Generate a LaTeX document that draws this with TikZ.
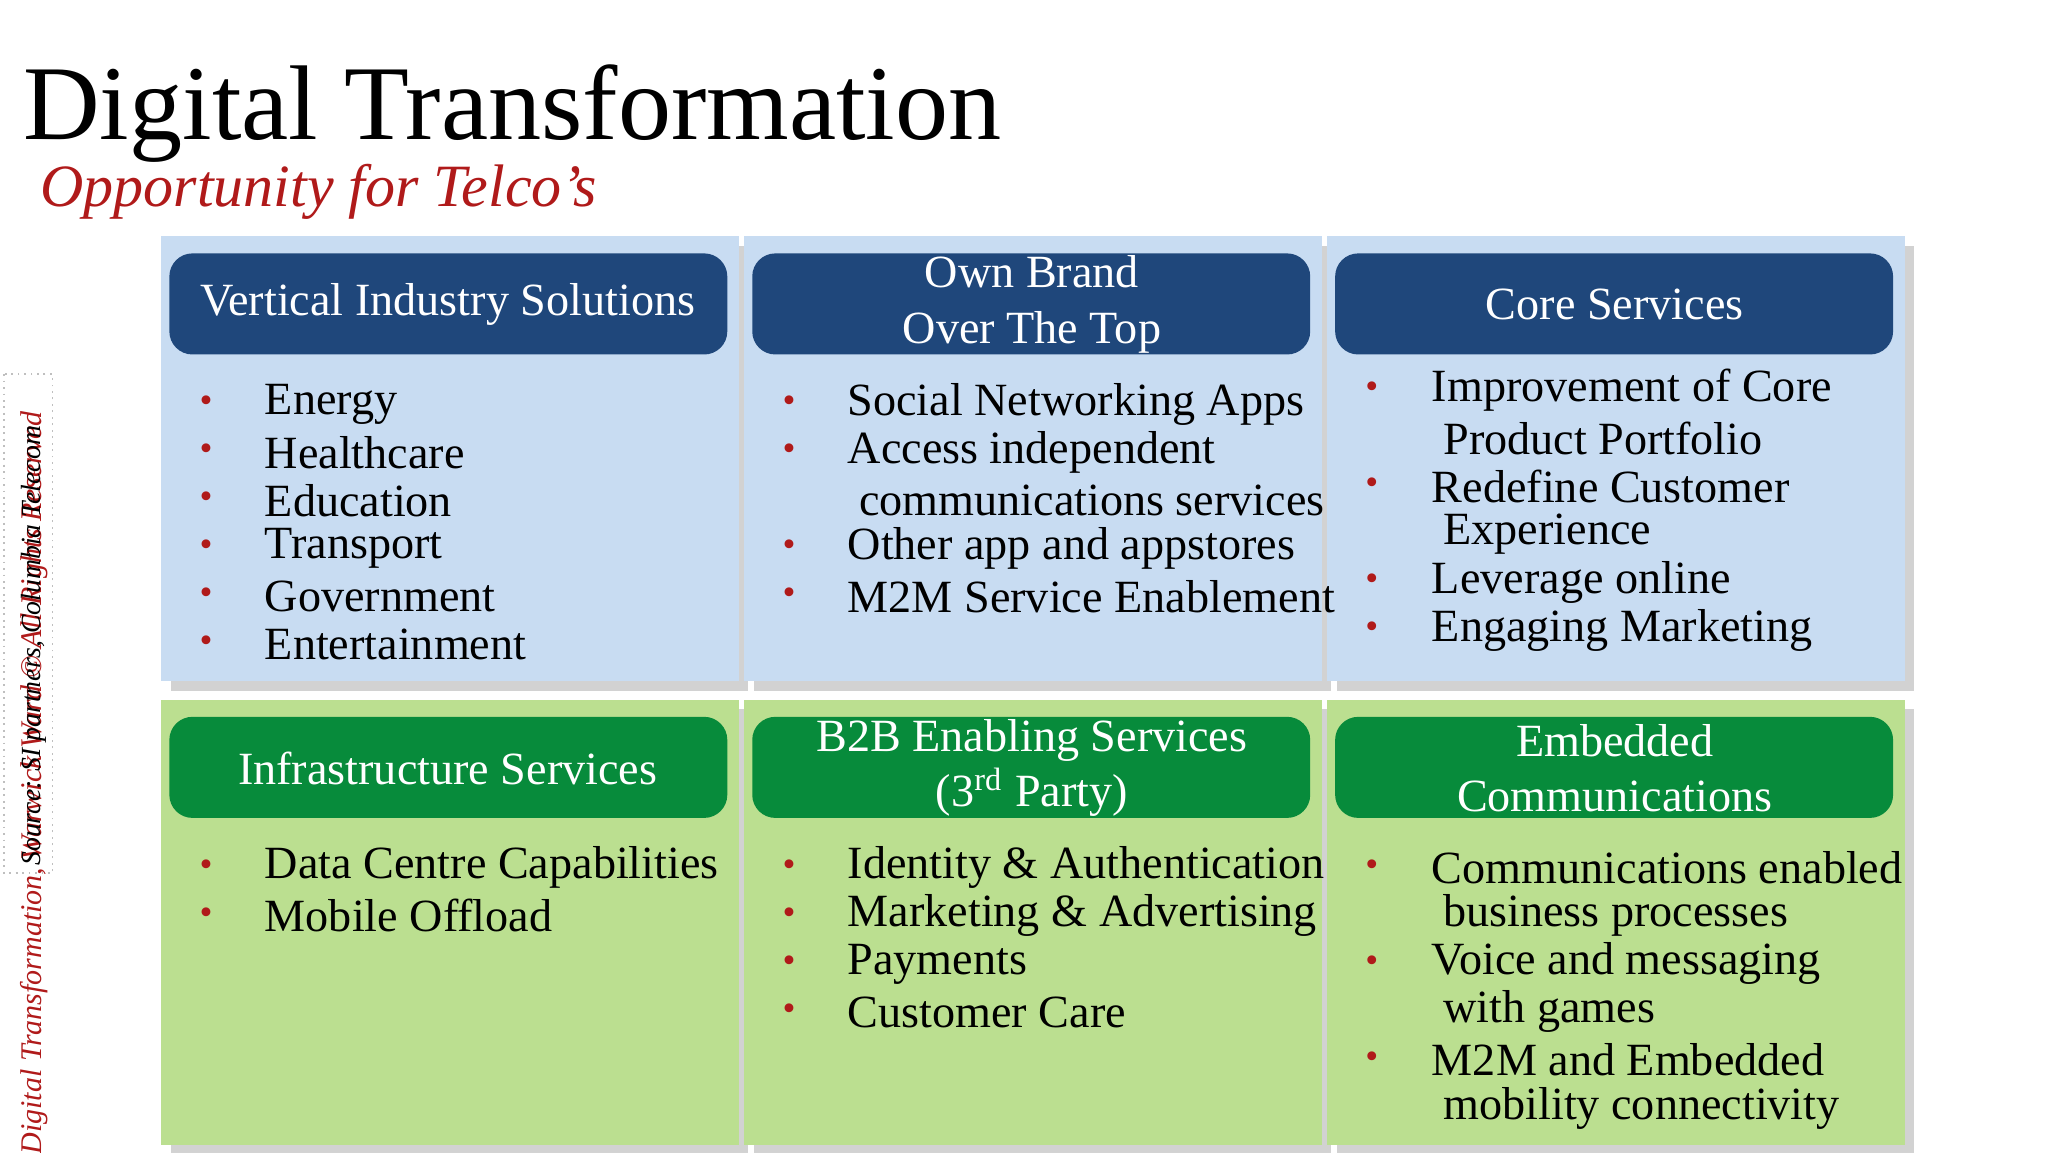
\documentclass[tikz,border=0pt]{standalone}
\usepackage{fontspec}
\setmainfont{Liberation Serif}
\usetikzlibrary{shadows}
\definecolor{hblue}{HTML}{1F477B}
\definecolor{pblue}{HTML}{C8DCF2}
\definecolor{hgreen}{HTML}{078B3B}
\definecolor{pgreen}{HTML}{BBDF90}
\definecolor{tred}{HTML}{B01A1A}
\tikzset{
 panel/.style={draw=none,drop shadow={opacity=0.35,shadow xshift=2pt,shadow yshift=-2pt}},
 hdr/.style={rounded corners=5pt,draw=none},
 htext/.style={text=white,font=\fontsize{10}{12}\selectfont,align=center},
 item/.style={anchor=west,font=\fontsize{10}{11.2}\selectfont,inner sep=0pt},
 bul/.style={anchor=center,text=tred,font=\fontsize{8}{9}\selectfont,inner sep=0pt}
}
\begin{document}
\begin{tikzpicture}[x=0.01cm,y=-0.01cm]
\useasboundingbox (0,0) rectangle (1560,877.5);
\fill[white] (0,0) rectangle (1560,877.5);
\node[anchor=base west,inner sep=0pt,font=\fontsize{23}{26}\selectfont] (title) at (17,106) {Digital Transformation};
\node[anchor=base west,inner sep=0pt,text=tred,font=\fontsize{13}{15}\selectfont\itshape] (sub) at (30,157) {Opportunity for Telco’s};
% panels
\foreach \x/\n in {123/a,567/b,1011/c}{
 \fill[pblue,panel] (\x,180) rectangle ++(440,339);
 \fill[pgreen,panel] (\x,533) rectangle ++(440,339);
 \fill[hblue,hdr] (\x+6,193) rectangle ++(425,77);
 \fill[hgreen,hdr] (\x+6,546) rectangle ++(425,77);
}
\node[htext] (h1) at (341,232) {Vertical Industry Solutions};
\node[htext] (h2) at (786,232) {Own Brand\\Over The Top};
\node[htext] (h3) at (1230,232) {Core Services};
\node[htext] (h4) at (341,585) {Infrastructure Services};
\node[htext] (h5) at (786,585) {B2B Enabling Services\\(3\textsuperscript{rd} Party)};
\node[htext] (h6) at (1230,585) {Embedded\\Communications};
% col 1 top
\foreach \t [count=\i] in {Energy,Healthcare,Education,Transport,Government,Entertainment}{
 \node[bul] at (157,308+36.6*\i-36.6) {•};
 \node[item] at (201,308+36.6*\i-36.6) {\t};}
\foreach \t [count=\i] in {Data Centre Capabilities,Mobile Offload}{
 \node[bul] at (157,661+36.6*\i-36.6) {•};
 \node[item] at (201,661+36.6*\i-36.6) {\t};}
% col 2 top
\def\yy{308}
\foreach \b/\t [count=\i] in {1/Social Networking Apps,1/Access independent,0/\ communications services,1/Other app and appstores,1/M2M Service Enablement}{
 \ifnum\b=1 \node[bul] at (601,308+36.6*\i-36.6) {•};\fi
 \node[item] at (645,308+36.6*\i-36.6) {\t};}
\foreach \t [count=\i] in {Identity \& Authentication,Marketing \& Advertising,Payments,Customer Care}{
 \node[bul] at (601,661+36.6*\i-36.6) {•};
 \node[item] at (645,661+36.6*\i-36.6) {\t};}
% col 3
\foreach \b/\t [count=\i] in {1/Improvement of Core,0/\ Product Portfolio,1/Redefine Customer,0/\ Experience,1/Leverage online,1/Engaging Marketing}{
 \ifnum\b=1 \node[bul] at (1045,297+36.6*\i-36.6) {•};\fi
 \node[item] at (1090,297+36.6*\i-36.6) {\t};}
\foreach \b/\t [count=\i] in {1/Communications enabled,0/\ business processes,1/Voice and messaging,0/\ with games,1/M2M and Embedded,0/\ mobility connectivity}{
 \ifnum\b=1 \node[bul] at (1045,661+36.6*\i-36.6) {•};\fi
 \node[item] at (1090,661+36.6*\i-36.6) {\t};}
% side notes
\draw[gray!50,densely dotted] (3,285) rectangle (40,665);
\node[rotate=90,anchor=west,text=tred,inner sep=0pt,font=\fontsize{6.5}{7}\selectfont\itshape] (side1) at (26,880) {Digital Transformation, Warwick Ward © All Rights Reserved};
\node[rotate=90,anchor=west,inner sep=0pt,font=\fontsize{6}{7}\selectfont\itshape] (side2) at (26,660) {Source: SI partners, Columbia Telecom};
\end{tikzpicture}
\end{document}
